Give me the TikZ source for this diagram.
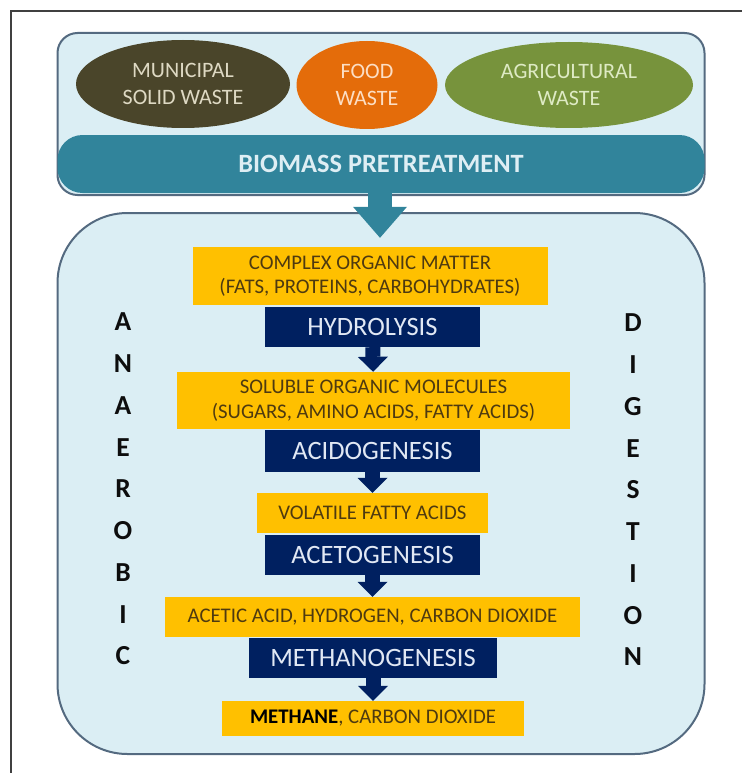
\documentclass[tikz,border=0pt]{standalone}
\usepackage{fontspec}
\setmainfont{Carlito}
\usepackage{tikz}
\usetikzlibrary{positioning}
\usetikzlibrary{shapes.geometric}
\usetikzlibrary{arrows.meta}
\definecolor{panelfill}{RGB}{219,238,244}
\definecolor{paneledge}{RGB}{84,106,128}
\definecolor{gold}{RGB}{255,192,0}
\definecolor{navy}{RGB}{0,32,96}
\definecolor{navytext}{RGB}{225,232,244}
\definecolor{tealband}{RGB}{49,132,155}
\definecolor{bandtext}{RGB}{222,238,244}
\definecolor{wastebrown}{RGB}{74,69,42}
\definecolor{wasteorange}{RGB}{228,108,10}
\definecolor{wastegreen}{RGB}{119,147,60}
\definecolor{browntext}{RGB}{222,217,195}
\definecolor{orangetext}{RGB}{252,222,196}
\definecolor{greentext}{RGB}{222,234,196}
\definecolor{goldtext}{RGB}{78,58,16}
\newcommand{\fsz}[2]{\fontsize{#1}{#2}\selectfont}
\tikzset{
  panel/.style={draw=paneledge, line width=2pt, fill=panelfill, inner sep=0pt, minimum width=647pt},
  waste/.style={ellipse, inner sep=0pt, minimum height=88pt, align=center, font=\fsz{22}{27}},
  product/.style={fill=gold, text=goldtext, inner sep=0pt, minimum height=40pt, align=center, font=\fsz{20.8}{24.5}},
  stage/.style={fill=navy, text=navytext, inner sep=0pt, minimum width=215pt, minimum height=40pt, font=\fsz{26.5}{30}},
  stagearrow/.style={draw=navy, line width=15pt, -{Triangle[width=30pt,length=15pt,line width=0pt,fill=navy]}},
  bigletter/.style={font=\fsz{27.5}{30}\bfseries, text=black!95},
}

\begin{document}
\begin{tikzpicture}[x=1pt,y=-1pt]
  \useasboundingbox (0,0) rectangle (742,773);
  \draw[line width=1.2pt, black!75] (11,773) -- (11,11) -- (742,11);

  \node[panel, rounded corners=20pt, minimum height=162pt] (src) at (381,114) {};
  \node[waste, fill=wastebrown, text=browntext, minimum width=214pt] (msw) at (183,84) {MUNICIPAL\\SOLID WASTE};
  \node[waste, fill=wasteorange, text=orangetext, minimum width=141pt] (food) at (367,85) {FOOD\\WASTE};
  \node[waste, fill=wastegreen, text=greentext, minimum width=248pt, minimum height=86pt] (agri) at (569,85) {AGRICULTURAL\\WASTE};
  \node[fill=tealband, rounded corners=25pt, minimum width=647pt, minimum height=58pt, inner sep=0pt,
        text=bandtext, font=\fsz{26.4}{30}\bfseries] (band) at (381,164) {BIOMASS PRETREATMENT};

  \node[panel, rounded corners=70pt, minimum height=541pt] (ad) at (381,483.5) {};

  \node[product, minimum width=355pt, minimum height=58pt] (com) at (370,276) {COMPLEX ORGANIC MATTER\\(FATS, PROTEINS, CARBOHYDRATES)};
  \node[stage] (hyd) at (372.5,327) {HYDROLYSIS};
  \node[product, minimum width=393pt, minimum height=57pt] (sol) at (373.5,400.5) {SOLUBLE ORGANIC MOLECULES\\(SUGARS, AMINO ACIDS, FATTY ACIDS)};
  \node[stage, minimum height=42pt] (aci) at (372.5,451) {ACIDOGENESIS};
  \node[product, minimum width=231pt] (vfa) at (372.5,513) {VOLATILE FATTY ACIDS};
  \node[stage] (ace) at (372.5,555) {ACETOGENESIS};
  \node[product, minimum width=415pt] (aah) at (372.5,617) {ACETIC ACID, HYDROGEN, CARBON DIOXIDE};
  \node[stage, minimum width=248pt] (met) at (373,658) {METHANOGENESIS};
  \node[product, minimum width=302pt, minimum height=35pt] (gas) at (373,718.5) {{\bfseries\color{black}METHANE}, CARBON DIOXIDE};

  \draw[draw=tealband, line width=24pt, shorten >=9pt,
        -{Triangle[width=54pt,length=31pt,line width=0pt,fill=tealband]}] ([xshift=-1pt]band.south) -- ([xshift=-1pt]band.south |- com.north);
  \draw[stagearrow] (hyd) -- (sol);
  \draw[stagearrow] (aci) -- (vfa);
  \draw[stagearrow] (ace) -- (aah);
  \draw[stagearrow] (met) -- (gas);

  \foreach \l [count=\i] in {A,N,A,E,R,O,B,I,C}
    \node[bigletter] (an\i) at (123,{322+(\i-1)*41.75}) {\l};
  \foreach \l [count=\i] in {D,I,G,E,S,T,I,O,N}
    \node[bigletter] (dg\i) at (633,{323+(\i-1)*41.75}) {\l};
\end{tikzpicture}
\end{document}
